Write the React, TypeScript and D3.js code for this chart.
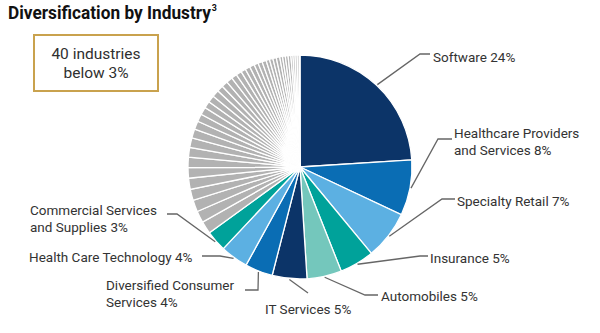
import React, { useLayoutEffect, useRef, useState } from "react";
import * as d3 from "d3";

const title = "Diversification by Industry";
const titleSup = "3";
const boxLines = ["40 industries", "below 3%"];

const categories = [
  "Software",
  "Healthcare Providers and Services",
  "Specialty Retail",
  "Insurance",
  "Automobiles",
  "IT Services",
  "Diversified Consumer Services",
  "Health Care Technology",
  "Commercial Services and Supplies",
];
const values = [24, 8, 7, 5, 5, 5, 4, 4, 3];
const labelLines = [
  ["Software 24%"],
  ["Healthcare Providers", "and Services 8%"],
  ["Specialty Retail 7%"],
  ["Insurance 5%"],
  ["Automobiles 5%"],
  ["IT Services 5%"],
  ["Diversified Consumer", "Services 4%"],
  ["Health Care Technology 4%"],
  ["Commercial Services", "and Supplies 3%"],
];
const otherValues = [
  1.8, 1.7, 1.7, 1.6, 1.6, 1.5, 1.5, 1.4, 1.4, 1.3,
  1.2, 1.1, 1.1, 1.0, 1.0, 1.0, 0.9, 0.9, 0.9, 0.8,
  0.8, 0.7, 0.7, 0.7, 0.6, 0.6, 0.6, 0.5, 0.5, 0.5,
  0.5, 0.4, 0.4, 0.4, 0.4, 0.3, 0.3, 0.3, 0.3, 0.1,
];

const colors = [
  "#0c3468", "#0a6db4", "#5cb0e2", "#00a29a", "#74c7bc",
  "#0c3468", "#0a6db4", "#5cb0e2", "#00a29a",
];
const otherColor = "#b2b2b2";

// label layout: elbow point, end point, text position
const labelLayout = [
  { elbow: [420, 54], end: [430, 54], tx: 433, ty: 57 },
  { elbow: [438, 139], end: [452, 139], tx: 454, ty: 133 },
  { elbow: [442, 199], end: [455, 199], tx: 457, ty: 201 },
  { elbow: [420, 256], end: [428, 256], tx: 430, ty: 258 },
  { elbow: [365, 295], end: [378, 295], tx: 381, ty: 296 },
  { elbow: [308, 293], end: [308, 293], tx: 265, ty: 309 },
  { elbow: [258, 290], end: [245, 290], tx: 106, ty: 285 },
  { elbow: [220, 256], end: [202, 256], tx: 29, ty: 257 },
  { elbow: [177, 214], end: [167, 214], tx: 30, ty: 210 },
];

const W = 600;
const H = 333;
const cx = 300;
const cy = 167;
const R = 112;
const titleWidth = 203;

type Slice = { name: string; value: number; color: string; idx: number };

export default function App() {
  const titleRef = useRef<SVGTSpanElement>(null);
  const [titleScale, setTitleScale] = useState(0.87);
  useLayoutEffect(() => {
    const el = titleRef.current as any;
    if (el && el.getComputedTextLength) {
      const w = el.getComputedTextLength();
      if (w > 0) setTitleScale(titleWidth / w);
    }
  }, []);

  const data: Slice[] = [
    ...values.map((v, i) => ({ name: categories[i], value: v, color: colors[i], idx: i })),
    ...otherValues.map((v, i) => ({ name: "Other " + (i + 1), value: v, color: otherColor, idx: -1 })),
  ];
  const pie = d3
    .pie<Slice>()
    .sort(null)
    .value((d) => d.value)
    .startAngle(0)
    .endAngle(2 * Math.PI);
  const arcs = pie(data);
  const arc = d3.arc<d3.PieArcDatum<Slice>>().innerRadius(0).outerRadius(R);
  const font = "Roboto, 'Noto Sans', sans-serif";

  return (
    <svg
      width={W}
      height={H}
      style={{ position: "absolute", left: 0, top: 0, background: "#fff" }}
      fontFamily={font}
    >
      <g transform={`translate(8,19) scale(${titleScale},1)`}>
        <text x={0} y={0} fontSize={17.5} fontWeight={700} fill="#111">
          <tspan ref={titleRef}>{title}</tspan>
          <tspan dx={0.8} dy={-8} fontSize={9}>
            {titleSup}
          </tspan>
        </text>
      </g>
      <rect x={34} y={35} width={124} height={56} fill="#fff" stroke="#c9a24e" strokeWidth={2} />
      {boxLines.map((l, i) => (
        <text key={i} x={96} y={54 + i * 19} dy="0.35em" fontSize={15.5} fill="#2f2f2f" textAnchor="middle">
          {l}
        </text>
      ))}
      <g transform={`translate(${cx},${cy})`}>
        {arcs.map((a, i) => (
          <path key={i} d={arc(a) || ""} fill={a.data.color} stroke="#fff" strokeWidth={1.3} />
        ))}
      </g>
      {arcs
        .filter((a) => a.data.idx >= 0)
        .map((a) => {
          const i = a.data.idx;
          const L = labelLayout[i];
          const mid = (a.startAngle + a.endAngle) / 2;
          const sx = cx + (R + 1) * Math.sin(mid);
          const sy = cy - (R + 1) * Math.cos(mid);
          const lines = labelLines[i];
          return (
            <g key={"l" + i}>
              <polyline
                points={`${sx},${sy} ${L.elbow[0]},${L.elbow[1]} ${L.end[0]},${L.end[1]}`}
                fill="none"
                stroke="#666"
                strokeWidth={1.3}
              />
              {lines.map((t, j) => (
                <text
                  key={j}
                  x={L.tx}
                  y={L.ty + j * 17}
                  dy="0.35em"
                  fontSize={13.5}
                  fill="#333"
                >
                  {t}
                </text>
              ))}
            </g>
          );
        })}
    </svg>
  );
}
